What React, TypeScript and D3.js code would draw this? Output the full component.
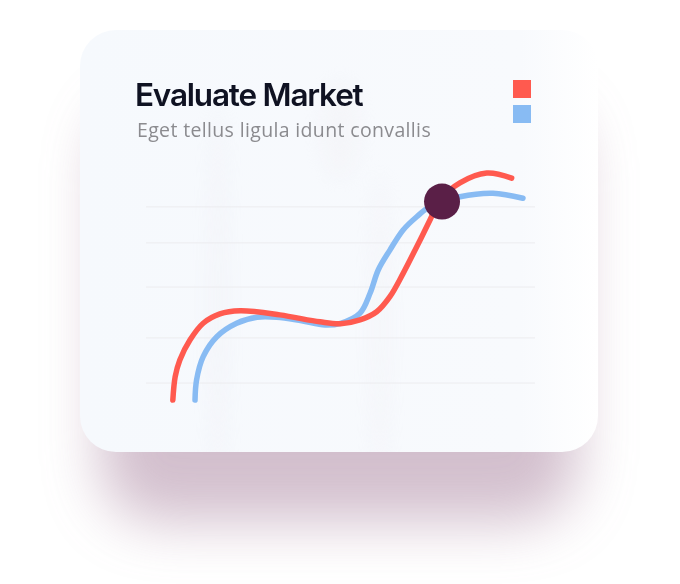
import React from 'react';
import * as d3 from 'd3';

// plot units: x 0..100, y 0..100
const redX = [6.9, 7.5, 8.7, 11.3, 14.7, 19, 24.2, 34.4, 44.7, 50, 55, 59.3, 62.7, 66.1, 69.6, 73, 75.6, 80.7, 87.6, 94];
const redY = [0.8, 10.5, 17.5, 25.8, 32.8, 36.7, 38, 36.3, 33.4, 32.6, 34.2, 37.6, 43.9, 53.6, 64.7, 75.8, 84.2, 91.3, 95.4, 93.3];
const blueX = [12.6, 13, 14.7, 18.2, 23.3, 28.5, 33.6, 40, 46, 50, 55, 57.6, 59.7, 62.7, 66.1, 69.6, 73, 80.7, 89.2, 96.9];
const blueY = [0.8, 9.2, 18.9, 27.2, 32.8, 35.3, 35.3, 33.8, 32.1, 32.8, 37, 45.3, 55, 63.3, 71.7, 77.2, 81.4, 85.5, 87, 84.9];
const gridValues = [7.9, 26.7, 47.9, 66.3, 81.3];
const marker = { x: 76.1, y: 83.5 };

const title = 'Evaluate Market';
const subtitle = 'Eget tellus ligula idunt convallis';
const seriesColors = ['#ff5a4f', '#88bbf3'];

const W = 680;
const H = 584;
const card = { x: 80, y: 30, w: 518, h: 422, r: 36 };

const App: React.FC = () => {
  const x = d3.scaleLinear().domain([0, 100]).range([146, 535]);
  const y = d3.scaleLinear().domain([0, 100]).range([402, 162]);

  const line = d3
    .line<[number, number]>()
    .x(d => x(d[0]))
    .y(d => y(d[1]))
    .curve(d3.curveCatmullRom.alpha(0.5));

  const red = redX.map((v, i) => [v, redY[i]] as [number, number]);
  const blue = blueX.map((v, i) => [v, blueY[i]] as [number, number]);

  return (
    <svg
      width={W}
      height={H}
      style={{ position: 'absolute', left: 0, top: 0, background: '#fff' }}
    >
      <defs>
        <filter id="shadow" x="-30%" y="-30%" width="160%" height="180%">
          <feGaussianBlur stdDeviation="28" />
        </filter>
        <filter id="streak" x="-200%" y="-50%" width="500%" height="200%">
          <feGaussianBlur stdDeviation="10" />
        </filter>
        <linearGradient id="cardBg" x1="0" y1="0" x2="1" y2="0">
          <stop offset="0" stopColor="#f6f9fd" />
          <stop offset="0.85" stopColor="#f8fafd" />
          <stop offset="1" stopColor="#ffffff" />
        </linearGradient>
        <clipPath id="cardClip">
          <rect x={card.x} y={card.y} width={card.w} height={card.h} rx={card.r} />
        </clipPath>
      </defs>

      {/* soft shadow under the card */}
      <rect
        x={card.x + 20}
        y={card.y + 70}
        width={card.w - 40}
        height={card.h}
        rx={60}
        fill="#c4aabd"
        opacity={0.75}
        filter="url(#shadow)"
      />

      <rect x={card.x} y={card.y} width={card.w} height={card.h} rx={card.r} fill="url(#cardBg)" />

      {/* faint streaks in the card background */}
      <g clipPath="url(#cardClip)" opacity={0.3}>
        <ellipse cx={218} cy={300} rx={8} ry={200} fill="#eceaf0" filter="url(#streak)" />
        <ellipse cx={380} cy={330} rx={9} ry={160} fill="#efedf2" filter="url(#streak)" />
        <ellipse cx={340} cy={130} rx={20} ry={50} fill="#f0eef2" filter="url(#streak)" />
      </g>

      <text
        x={135}
        y={106}
        fontFamily="Inter, 'Noto Sans', sans-serif"
        fontWeight={600}
        fontSize={31.5}
        letterSpacing={-1.2}
        fill="#0f1222"
      >
        {title}
      </text>
      <text
        x={137}
        y={137}
        fontFamily="'Open Sans', 'Noto Sans', sans-serif"
        fontWeight={400}
        fontSize={19.5}
        letterSpacing={0.35}
        fill="#8b8b8f"
      >
        {subtitle}
      </text>

      {seriesColors.map((c, i) => (
        <rect key={c} x={513} y={80 + i * 25} width={18} height={18} fill={c} />
      ))}

      {gridValues.map(v => (
        <line
          key={v}
          x1={x(0)}
          x2={x(100)}
          y1={y(v)}
          y2={y(v)}
          stroke="#ececef"
          strokeWidth={1}
        />
      ))}

      <path
        d={line(blue) || ''}
        fill="none"
        stroke={seriesColors[1]}
        strokeWidth={5.5}
        strokeLinecap="round"
      />
      <path
        d={line(red) || ''}
        fill="none"
        stroke={seriesColors[0]}
        strokeWidth={5.5}
        strokeLinecap="round"
      />

      <circle cx={x(marker.x)} cy={y(marker.y)} r={18} fill="#5a1f47" />
    </svg>
  );
};

export default App;
